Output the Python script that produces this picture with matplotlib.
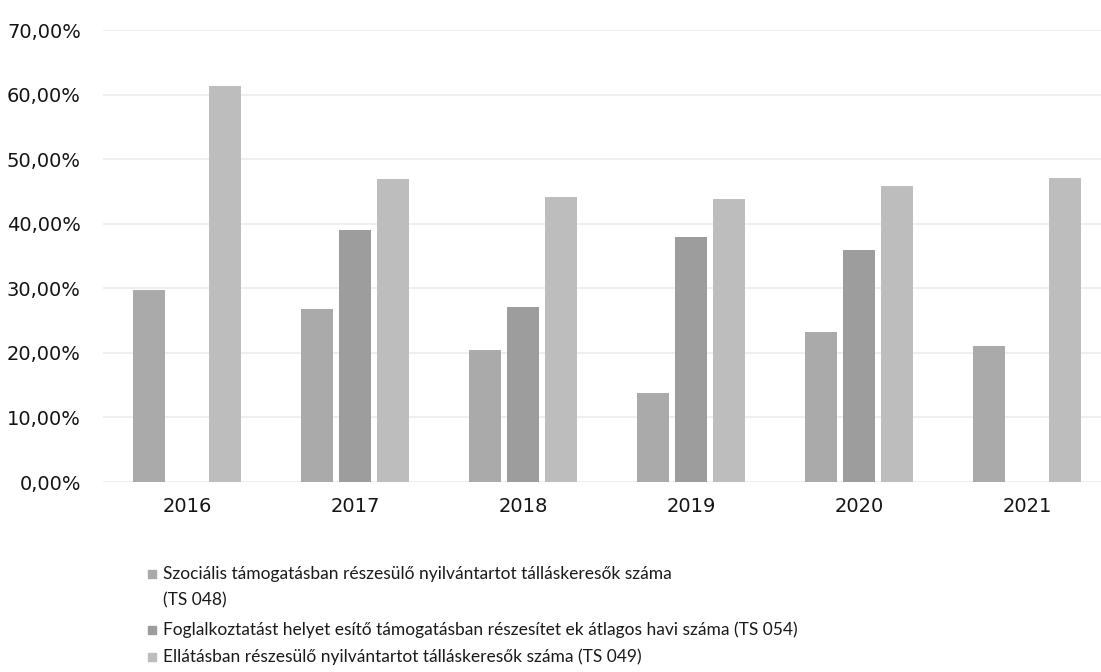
import numpy as np
import matplotlib.pyplot as plt
from matplotlib.patches import Rectangle

years = ['2016', '2017', '2018', '2019', '2020', '2021']
szocialis = [29.7, 26.8, 20.5, 13.8, 23.2, 21.1]
foglalkoztatas = [0, 39.1, 27.1, 38.0, 36.0, 0]
ellatas = [61.3, 46.9, 44.2, 43.8, 45.8, 47.1]

labels = ['Szociális támogatásban részesülő nyilvántartot tálláskeresők száma\n(TS 048)',
          'Foglalkoztatást helyet esítő támogatásban részesítet ek átlagos havi száma (TS 054)',
          'Ellátásban részesülő nyilvántartot tálláskeresők száma (TS 049)']
colors = ['#aaaaaa', '#9d9d9d', '#bdbdbd']

W, H = 1101, 672
fig = plt.figure(figsize=(W / 100, H / 100), dpi=100)
ax = fig.add_axes([0.0936, 0.2827, 0.9154, 0.6726])

x = np.arange(len(years))
w = 0.19
step = 0.225
series = [szocialis, foglalkoztatas, ellatas]
for i, vals in enumerate(series):
    ax.bar(x + (i - 1) * step, np.array(vals) / 100, w, color=colors[i], zorder=2)

ax.set_xlim(-0.5, len(years) - 0.5)
ax.set_ylim(0, 0.70)
ax.set_yticks(np.arange(0, 0.71, 0.1))
ax.set_yticklabels([f'{v:.2f}%'.replace('.', ',') for v in np.arange(0, 71, 10)])
ax.set_xticks(x)
ax.set_xticklabels(years)
ax.tick_params(axis='both', length=0, labelsize=14, colors='#141414')
ax.tick_params(axis='y', pad=16)
ax.tick_params(axis='x', pad=11)
ax.yaxis.grid(True, color='#ececec', linewidth=1.2, zorder=0)
for s in ax.spines.values():
    s.set_visible(False)

# legend drawn by hand (line spacing of the original)
entry_y = [574, 630, 657]
line_step = 26
for lab, col, yc in zip(labels, colors, entry_y):
    fig.patches.append(Rectangle((148 / W, 1 - (yc + 4) / H), 8 / W, 8 / H,
                                 transform=fig.transFigure, color=col, figure=fig))
    for k, line in enumerate(lab.split('\n')):
        fig.text(163 / W, 1 - (yc + k * line_step) / H, line, family='Lato', size=12.5,
                 color='#1a1a1a', va='center', ha='left')

fig.savefig('out.png', dpi=100, facecolor='white')
